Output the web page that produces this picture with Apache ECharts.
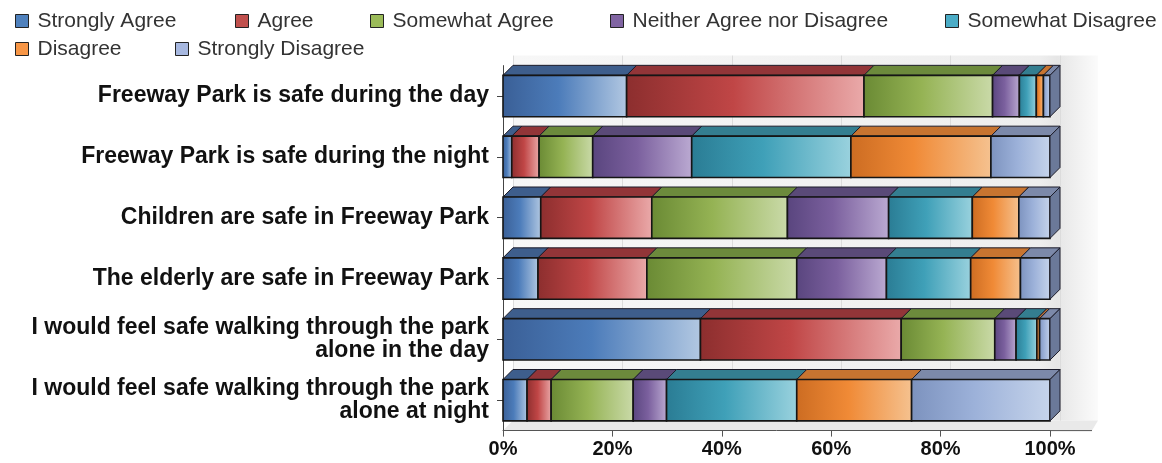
<!DOCTYPE html>
<html><head><meta charset="utf-8">
<script src="https://cdn.jsdelivr.net/npm/echarts@6/dist/echarts.min.js"></script>
<style>html,body{margin:0;padding:0;background:#fff}#c{width:1162px;height:463px}</style>
</head><body><div id="c"></div>
<script>
const categories = [
  "Freeway Park is safe during the day",
  "Freeway Park is safe during the night",
  "Children are safe in Freeway Park",
  "The elderly are safe in Freeway Park",
  "I would feel safe walking through the park\nalone in the day",
  "I would feel safe walking through the park\nalone at night"
];
const seriesNames = ["Strongly Agree","Agree","Somewhat Agree","Neither Agree nor Disagree","Somewhat Disagree","Disagree","Strongly Disagree"];
const stronglyAgree    = [22.6, 1.6, 6.9, 6.4, 36.1, 4.4];
const agree            = [43.4, 5.0, 20.3, 19.9, 36.7, 4.4];
const somewhatAgree    = [23.5, 9.8, 24.8, 27.4, 17.1, 15.0];
const neither          = [4.9, 18.1, 18.5, 16.4, 3.9, 6.1];
const somewhatDisagree = [3.1, 29.1, 15.3, 15.4, 3.8, 23.8];
const disagree         = [1.3, 25.6, 8.5, 9.1, 0.5, 21.0];
const stronglyDisagree = [1.2, 10.8, 5.7, 5.4, 1.9, 25.3];
const xTicks = [0, 20, 40, 60, 80, 100];

const seriesValues = [stronglyAgree, agree, somewhatAgree, neither, somewhatDisagree, disagree, stronglyDisagree];

const palette = [
  {legend:'#4f81bd', dark:'#3a5f96', mid:'#4c7cba', light:'#b2c8e2', top:'#3e5e8c'},
  {legend:'#c0504d', dark:'#8c2e2e', mid:'#c04646', light:'#eaaaaa', top:'#923538'},
  {legend:'#9bbb59', dark:'#6a8a34', mid:'#95b354', light:'#cadaa9', top:'#6c8a3c'},
  {legend:'#8064a2', dark:'#59457e', mid:'#7b609e', light:'#bbaad2', top:'#5a4a78'},
  {legend:'#4bacc6', dark:'#2a7c94', mid:'#3fa0b8', light:'#9ad2de', top:'#347e90'},
  {legend:'#f79646', dark:'#cc6c22', mid:'#f08a36', light:'#f5c290', top:'#c77430'},
  {legend:'#a7b8e0', dark:'#7c92be', mid:'#9cb1d9', light:'#c6d4eb', top:'#7c89a9', side:'#6b7999'}
];

const G = {left: 503, top: 65.6, width: 547, height: 365};
const D = 10;

const chart = echarts.init(document.getElementById('c'), null, {renderer: 'canvas'});

function makeRender(si) {
  return function (params, api) {
    const s = api.value(0), e = api.value(1), ci = api.value(2);
    const p0 = api.coord([s, ci]), p1 = api.coord([e, ci]);
    const bh = api.size([0, 1])[1] * 0.68;
    const top = p0[1] - bh / 2, bot = p0[1] + bh / 2;
    const x0 = p0[0], x1 = p1[0];
    const c = palette[si];
    const grad = new echarts.graphic.LinearGradient(0, 0, 1, 0, [
      {offset: 0, color: c.dark}, {offset: 0.45, color: c.mid}, {offset: 1, color: c.light}
    ]);
    const children = [
      {type: 'polygon', shape: {points: [[x0, top], [x0 + D, top - D], [x1 + D, top - D], [x1, top]]},
        style: {fill: c.top, stroke: '#1c1c2a', lineWidth: 1}},
      {type: 'rect', shape: {x: x0, y: top, width: x1 - x0, height: bh},
        style: {fill: grad, stroke: '#151515', lineWidth: 1.6}}
    ];
    if (si === seriesValues.length - 1) {
      children.push({type: 'polygon', shape: {points: [[x1, top], [x1 + D, top - D], [x1 + D, bot - D], [x1, bot]]},
        style: {fill: c.side || c.top, stroke: '#1c1c2a', lineWidth: 1}});
    }
    return {type: 'group', children};
  };
}

const series = seriesValues.map((vals, si) => {
  const data = vals.map((v, ci) => {
    let start = 0;
    for (let k = 0; k < si; k++) start += seriesValues[k][ci];
    return [start, start + v, ci];
  });
  return {
    type: 'custom', name: seriesNames[si], xAxisIndex: 0, yAxisIndex: 0,
    renderItem: makeRender(si), encode: {x: [0, 1], y: 2},
    itemStyle: {color: palette[si].legend}, data, z: 3
  };
});

const legendPos = [[10, 5], [230, 5], [365, 5], [605, 5], [940, 5], [10, 33], [170, 33]];
const legends = seriesNames.map((n, i) => ({
  data: [n], left: legendPos[i][0], top: legendPos[i][1], orient: 'horizontal',
  icon: 'rect', itemWidth: 13, itemHeight: 13, selectedMode: false,
  itemStyle: {borderColor: '#222', borderWidth: 1},
  textStyle: {fontFamily: 'Liberation Sans, Arial, sans-serif', fontSize: 21, color: '#333', padding: [0, 0, 0, 4], lineHeight: 22}
}));

const wallRight = 1098;
const graphic = [
  {type: 'rect', z: -10, shape: {x: G.left + D, y: G.top - D, width: wallRight - G.left - D, height: G.height},
    style: {fill: new echarts.graphic.LinearGradient(0, 0, 1, 0, [
      {offset: 0, color: '#f7f7f7'}, {offset: 0.9, color: '#eeeeee'}, {offset: 0.93, color: '#e6e6e6'}, {offset: 1, color: '#fbfbfb'}])}},
  {type: 'polygon', z: -9, shape: {points: [[G.left, G.top + G.height], [G.left + D, G.top + G.height - D],
      [wallRight, G.top + G.height - D], [wallRight - 6, G.top + G.height]]},
    style: {fill: '#e9e9e9'}},
  {type: 'line', z: 5, shape: {x1: G.left + G.width, y1: G.top + G.height, x2: 1092, y2: G.top + G.height},
    style: {stroke: '#555', lineWidth: 1}}
];

chart.setOption({
  animation: false,
  backgroundColor: '#fff',
  legend: legends,
  graphic,
  grid: [
    {left: G.left, top: G.top, width: G.width, height: G.height, containLabel: false},
    {left: G.left + D, top: G.top - D, width: G.width, height: G.height, containLabel: false}
  ],
  xAxis: [
    {type: 'value', gridIndex: 0, min: xTicks[0], max: xTicks[xTicks.length - 1], interval: xTicks[1] - xTicks[0],
      axisLine: {show: true, lineStyle: {color: '#555'}},
      axisTick: {show: true, length: 6, lineStyle: {color: '#555'}},
      splitLine: {show: false},
      axisLabel: {formatter: '{value}%', fontFamily: 'Liberation Sans, Arial, sans-serif', fontWeight: 'bold', fontSize: 20, color: '#111', margin: 9}},
    {type: 'value', gridIndex: 1, min: xTicks[0], max: xTicks[xTicks.length - 1], interval: xTicks[1] - xTicks[0],
      axisLine: {show: false}, axisTick: {show: false}, axisLabel: {show: false},
      splitLine: {show: true, lineStyle: {color: '#dcdcdc', width: 1}}}
  ],
  yAxis: [
    {type: 'category', gridIndex: 0, data: categories, inverse: true,
      axisLine: {show: true, lineStyle: {color: '#444'}},
      axisTick: {show: true, alignWithLabel: true, length: 6, lineStyle: {color: '#444'}},
      axisLabel: {fontFamily: 'Liberation Sans, Arial, sans-serif', fontWeight: 'bold', fontSize: 23, color: '#111', margin: 14, lineHeight: 23, align: 'right'}},
    {type: 'category', gridIndex: 1, data: categories, inverse: true, show: false}
  ],
  series
});
</script>
</body></html>
